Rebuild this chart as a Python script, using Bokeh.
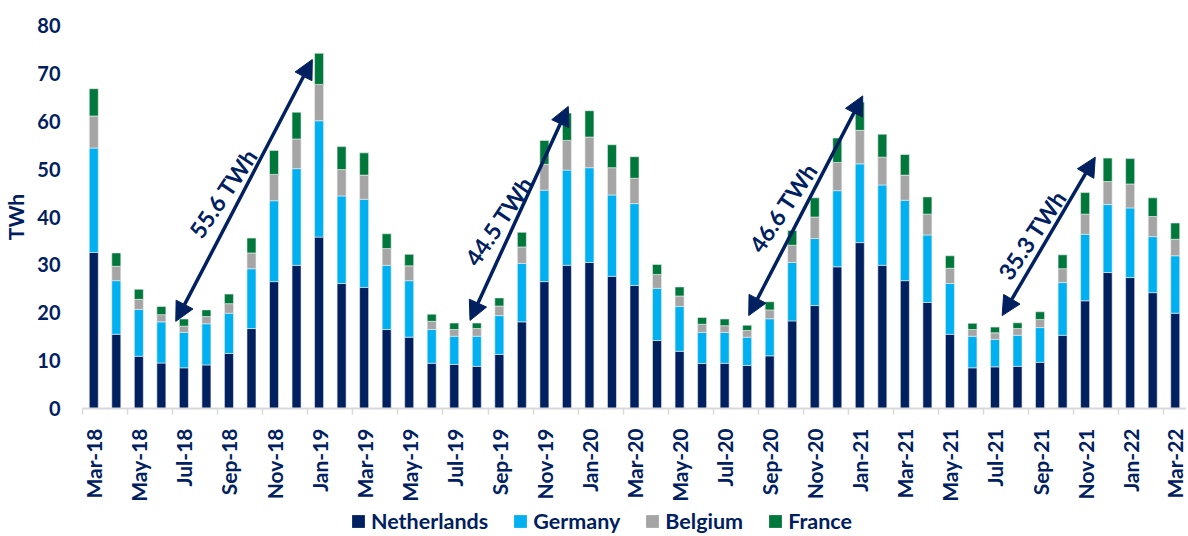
import math
from bokeh.plotting import figure
from bokeh.layouts import column
from bokeh.models import (ColumnDataSource, Range1d, FixedTicker, Legend, LegendItem,
                          Arrow, NormalHead)
from bokeh.core.properties import value
from bokeh.embed import file_html
from bokeh.resources import INLINE

# ---------------- data ----------------
months = ["Mar-18", "Apr-18", "May-18", "Jun-18", "Jul-18", "Aug-18", "Sep-18", "Oct-18",
          "Nov-18", "Dec-18", "Jan-19", "Feb-19", "Mar-19", "Apr-19", "May-19", "Jun-19",
          "Jul-19", "Aug-19", "Sep-19", "Oct-19", "Nov-19", "Dec-19", "Jan-20", "Feb-20",
          "Mar-20", "Apr-20", "May-20", "Jun-20", "Jul-20", "Aug-20", "Sep-20", "Oct-20",
          "Nov-20", "Dec-20", "Jan-21", "Feb-21", "Mar-21", "Apr-21", "May-21", "Jun-21",
          "Jul-21", "Aug-21", "Sep-21", "Oct-21", "Nov-21", "Dec-21", "Jan-22", "Feb-22",
          "Mar-22"]

netherlands = [32.6, 15.5, 10.9, 9.5, 8.5, 9.1, 11.5, 16.7, 26.5, 29.9, 35.8, 26.1, 25.3,
               16.5, 14.9, 9.45, 9.2, 8.8, 11.3, 18.1, 26.5, 29.9, 30.5, 27.6, 25.7, 14.2,
               11.95, 9.4, 9.45, 9.0, 11.0, 18.3, 21.5, 29.6, 34.65, 29.9, 26.7, 22.15, 15.5,
               8.5, 8.7, 8.8, 9.65, 15.3, 22.5, 28.4, 27.35, 24.2, 19.9]
germany = [21.8, 11.2, 9.8, 8.6, 7.4, 8.6, 8.4, 12.5, 16.9, 20.2, 24.3, 18.3, 18.4,
           13.4, 11.8, 7.05, 5.9, 6.3, 8.1, 12.2, 19.1, 19.9, 19.8, 17.0, 17.1, 10.9,
           9.35, 6.5, 6.45, 5.9, 7.75, 12.2, 14.0, 15.9, 16.45, 16.8, 16.8, 14.1, 10.6,
           6.6, 5.75, 6.5, 7.25, 11.0, 13.9, 14.2, 14.55, 11.7, 12.0]
belgium = [6.7, 3.0, 2.1, 1.5, 1.3, 1.5, 2.0, 3.3, 5.5, 6.2, 7.6, 5.5, 5.05,
           3.5, 3.1, 1.7, 1.4, 1.6, 2.0, 3.45, 5.4, 6.2, 6.4, 5.7, 5.3, 2.9,
           2.2, 1.7, 1.4, 1.4, 1.85, 3.6, 4.5, 5.9, 7.0, 5.8, 5.25, 4.35, 3.2,
           1.4, 1.35, 1.4, 1.7, 2.9, 4.2, 4.8, 5.0, 4.2, 3.45]
france = [5.7, 2.8, 2.1, 1.7, 1.5, 1.4, 2.0, 3.1, 5.0, 5.6, 6.5, 4.8, 4.65,
          3.1, 2.4, 1.5, 1.35, 1.15, 1.7, 3.05, 5.0, 5.7, 5.5, 4.8, 4.5, 2.1,
          1.9, 1.4, 1.4, 1.1, 1.7, 3.1, 4.0, 5.1, 5.9, 4.8, 4.3, 3.6, 2.6,
          1.3, 1.2, 1.2, 1.6, 2.9, 4.5, 4.9, 5.3, 3.9, 3.4]

series_names = ["Netherlands", "Germany", "Belgium", "France"]
y_ticks = [0, 10, 20, 30, 40, 50, 60, 70, 80]

# annotations: swing labels and arrow end points (month index, TWh)
swing_labels = ["55.6 TWh", "44.5 TWh", "46.6 TWh", "35.3 TWh"]
swing_label_x = [5.74, 17.98, 30.59, 41.64]
swing_label_y = [45.0, 39.2, 42.0, 36.3]
swing_low_x = [3.64, 16.70, 29.07, 40.32]
swing_low_y = [18.2, 18.4, 19.4, 19.4]
swing_high_x = [9.70, 21.06, 34.13, 44.45]
swing_high_y = [72.9, 63.1, 65.3, 52.5]

# ---------------- styling ----------------
NAVY = "#002060"
colors = ["#002060", "#00B0F0", "#A5A5A5", "#00783C"]
FONT = "Lato"
AXIS_GREY = "#D9D9D9"

idx = list(range(len(months)))
source = ColumnDataSource(dict(x=idx, Netherlands=netherlands, Germany=germany,
                               Belgium=belgium, France=france))

p = figure(width=1186, height=508, output_backend="svg", toolbar_location=None,
           x_range=Range1d(-0.5, len(months) - 0.5), y_range=Range1d(0, 80),
           min_border_left=82, min_border_right=0, min_border_top=25, min_border_bottom=100)
p.outline_line_color = None
p.xgrid.grid_line_color = None
p.ygrid.grid_line_color = None
p.background_fill_color = "white"
p.border_fill_color = "white"

renderers = p.vbar_stack(series_names, x="x", width=0.4, source=source,
                         fill_color=colors, line_color="#EEEEEE", line_width=0.6)

# x axis
xa = p.xaxis[0]
xa.ticker = FixedTicker(ticks=list(range(0, len(months), 2)),
                        minor_ticks=[i - 0.5 for i in range(0, len(months) + 1, 2)])
xa.major_label_overrides = {i: months[i] for i in range(0, len(months), 2)}
xa.major_label_orientation = math.pi / 2
xa.major_tick_line_color = None
xa.major_tick_out = 0
xa.major_tick_in = 0
xa.minor_tick_line_color = AXIS_GREY
xa.minor_tick_line_width = 1.5
xa.minor_tick_out = 6
xa.minor_tick_in = 0
xa.axis_line_color = AXIS_GREY
xa.axis_line_width = 2
xa.major_label_standoff = 14
xa.major_label_text_font = FONT
xa.major_label_text_font_style = "bold"
xa.major_label_text_font_size = "21px"
xa.major_label_text_color = NAVY

# y axis
ya = p.yaxis[0]
ya.ticker = FixedTicker(ticks=y_ticks)
ya.axis_line_color = None
ya.major_tick_line_color = None
ya.minor_tick_line_color = None
ya.major_tick_out = 0
ya.major_label_standoff = 22
ya.major_label_text_font = FONT
ya.major_label_text_font_style = "bold"
ya.major_label_text_font_size = "20px"
ya.major_label_text_color = NAVY
ya.axis_label = "TWh"
ya.axis_label_text_font = FONT
ya.axis_label_text_font_style = "bold"
ya.axis_label_text_font_size = "21px"
ya.axis_label_text_color = NAVY
ya.axis_label_standoff = 6

# arrows
arrow_src = ColumnDataSource(dict(x0=swing_low_x, y0=swing_low_y, x1=swing_high_x, y1=swing_high_y))
p.add_layout(Arrow(source=arrow_src, x_start="x0", y_start="y0", x_end="x1", y_end="y1",
                   line_color=NAVY, line_width=3.5,
                   start=NormalHead(size=19, fill_color=NAVY, line_color=NAVY),
                   end=NormalHead(size=19, fill_color=NAVY, line_color=NAVY)))

# labels
label_src = ColumnDataSource(dict(x=swing_label_x, y=swing_label_y, t=swing_labels))
p.text(x="x", y="y", text="t", source=label_src, angle=56, angle_units="deg",
       text_align="center", text_baseline="middle", text_color=NAVY,
       text_font=value(FONT), text_font_style="bold", text_font_size="23px")

# legend strip (separate figure so the legend is not clipped by the main frame)
lg = figure(width=1186, height=26, output_backend="svg", toolbar_location=None,
            x_range=Range1d(0, 1), y_range=Range1d(0, 1), x_axis_type=None, y_axis_type=None,
            min_border_left=0, min_border_right=0, min_border_top=0, min_border_bottom=0)
lg.outline_line_color = None
lg.xgrid.grid_line_color = None
lg.ygrid.grid_line_color = None
legend_renderers = lg.vbar_stack(series_names, x="x", width=0.4, source=source,
                                 fill_color=colors, line_color=None)
for r in legend_renderers:
    r.visible = False
legend = Legend(items=[LegendItem(label=n, renderers=[r]) for n, r in zip(series_names, legend_renderers)],
                orientation="horizontal", location=(268, 0),
                glyph_width=16, glyph_height=16, label_standoff=5, spacing=24,
                padding=0, margin=0, border_line_color=None, background_fill_alpha=0,
                inactive_fill_alpha=0,
                label_text_font=FONT, label_text_font_style="bold",
                label_text_font_size="21.5px", label_text_color=NAVY)
lg.add_layout(legend, "center")

layout = column(p, lg, spacing=0)
open("out.html", "w").write(file_html(layout, INLINE))
